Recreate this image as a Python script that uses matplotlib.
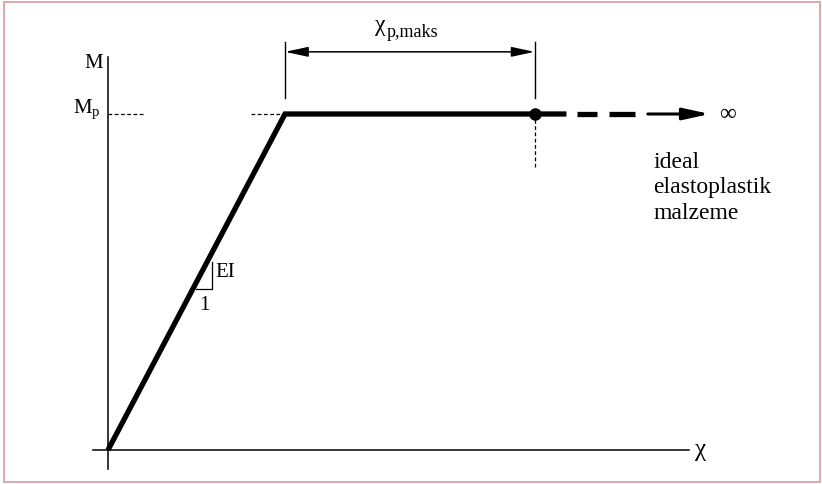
import matplotlib
matplotlib.use("Agg")
import matplotlib.pyplot as plt
from matplotlib.patches import Rectangle

plt.rcParams['font.family'] = ['Liberation Serif', 'DejaVu Serif']
plt.rcParams['mathtext.fontset'] = 'custom'
plt.rcParams['mathtext.rm'] = 'Liberation Serif'
plt.rcParams['mathtext.it'] = 'Liberation Serif:italic'

# schematic values: curvature in units of chi_y, moment in units of Mp
chi_y = 1.0
M_p = 1.0
chi_u = 2.41                      # end of plastic plateau (dot)
solid_end = 2.59                  # thick line continues a bit after the dot
dash_segs = [(2.65, 2.76), (2.83, 2.98)]
arrow_seg = (3.05, 3.40)
x_axis = (-0.085, 3.28)
y_axis = (-0.057, 1.17)
mp_dash_left = 0.20
mp_dash_corner = 0.81
dim_y = 1.185
dim_top, dim_bot = 1.214, 1.048
drop_end = 0.842
tri_x = (0.497, 0.588)
tri_y = (0.479, 0.56)
note_lines = ['ideal', 'elastoplastik', 'malzeme']

fig = plt.figure(figsize=(8.22, 4.84), dpi=100)
ax = fig.add_axes([0, 0, 1, 1])
ax.set_xlim(-108 / 177, 714 / 177)
ax.set_ylim(-34 / 336, 450 / 336)
ax.axis('off')

# border
fig.patches.append(Rectangle((4 / 822, 2 / 484), 816 / 822, 480 / 484, transform=fig.transFigure,
                             fill=False, edgecolor='#d9a3a3', linewidth=1.3))

k = 'black'
# axes
ax.plot(x_axis, [0, 0], color=k, lw=1.1)
ax.plot([0, 0], y_axis, color=k, lw=1.1)
ax.text(-0.03, 1.15, 'M', fontsize=15, ha='right', va='center')
ax.text(-0.045, 1.003, r'$\mathrm{M}_\mathrm{p}$', fontsize=15, ha='right', va='baseline')
ax.text(x_axis[1] + 0.07, 0, 'χ', fontsize=18, ha='center', va='center')

# Mp reference dashes
ax.plot([0, mp_dash_left], [M_p, M_p], color=k, lw=0.9, ls=(0, (3, 2)))
ax.plot([mp_dash_corner, chi_y], [M_p, M_p], color=k, lw=0.9, ls=(0, (3, 2)))

# elastic + plastic branch
ax.plot([0, chi_y, solid_end], [0, M_p, M_p], color=k, lw=3.8, solid_capstyle='butt',
        solid_joinstyle='miter')
for a, b in dash_segs:
    ax.plot([a, b], [M_p, M_p], color=k, lw=3.8, solid_capstyle='butt')
ax.annotate('', xy=(arrow_seg[1], M_p), xytext=(arrow_seg[0], M_p),
            arrowprops=dict(arrowstyle='-|>,head_length=1.6,head_width=0.35', color=k,
                            lw=2.2, shrinkA=0, shrinkB=0, mutation_scale=10))
ax.plot([chi_u], [M_p], 'o', color=k, ms=8)
ax.text(3.50, M_p, '∞', fontsize=17, ha='center', va='center')

# drop line at chi_u
ax.plot([chi_u, chi_u], [drop_end, M_p], color=k, lw=0.9, ls=(0, (3, 2)))

# dimension chi_p,maks
ax.plot([chi_y, chi_y], [dim_bot, dim_top], color=k, lw=1.0)
ax.plot([chi_u, chi_u], [dim_bot, dim_top], color=k, lw=1.0)
ax.annotate('', xy=(chi_u, dim_y), xytext=(chi_y, dim_y),
            arrowprops=dict(arrowstyle='<|-|>,head_length=1.4,head_width=0.3', color=k,
                            lw=1.1, shrinkA=0, shrinkB=0, mutation_scale=10))
ax.text(1.537, 1.262, 'χ', fontsize=17, ha='center', va='center')
ax.text(1.575, 1.229, 'p,maks', fontsize=13, ha='left', va='baseline')

# slope triangle
ax.plot([tri_x[0], tri_x[1], tri_x[1]], [tri_y[0], tri_y[0], tri_y[1]], color=k, lw=0.9)
ax.text(tri_x[1] + 0.02, (tri_y[0] + tri_y[1]) / 2 + 0.01, 'EI', fontsize=15, ha='left', va='center')
ax.text((tri_x[0] + tri_x[1]) / 2, tri_y[0] - 0.05, '1', fontsize=15, ha='center', va='center')

# note
for i, s in enumerate(note_lines):
    ax.text(3.08, 0.857 - i * 0.076, s, fontsize=17, ha='left', va='center')

fig.savefig('out.png', dpi=100)
